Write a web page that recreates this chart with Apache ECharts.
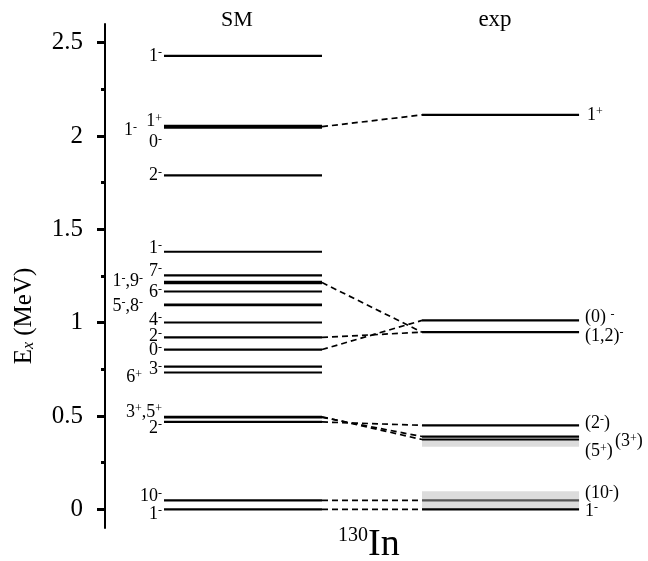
<!DOCTYPE html>
<html>
<head>
<meta charset="utf-8">
<script src="https://cdn.jsdelivr.net/npm/echarts@6/dist/echarts.min.js"></script>
<style>
  html, body { margin: 0; padding: 0; background: #fff; }
  #main { width: 648px; height: 561px; }
</style>
</head>
<body>
<div id="main"></div>
<script>
// energies in MeV
var smLevels = [0, 0.048, 0.468, 0.493, 0.496, 0.733, 0.765, 0.856, 0.921, 1.001, 1.094, 1.097,
                1.167, 1.212, 1.218, 1.253, 1.380, 1.789, 2.045, 2.050, 2.055, 2.429];
var expLevels = [0, 0.048, 0.374, 0.390, 0.450, 0.949, 1.012, 2.113];
var expBands = [[0, 0.097], [0.335, 0.372]];
// SM level -> exp level
var links = [[0, 0], [0.048, 0.048], [0.468, 0.450], [0.493, 0.390], [0.496, 0.374],
             [0.856, 1.012], [0.921, 0.949], [1.215, 0.949], [2.050, 2.113]];

var smLabelText = ['1-', '10-', '2-', '3+,5+', '6+', '3-', '0-', '2-', '4-', '5-,8-', '6-', '1-,9-', '7-',
                   '1-', '2-', '1+', '1-', '0-', '1-'];
var smLabelE = [0, 0.048, 0.468, 0.495, 0.733, 0.765, 0.856, 0.921, 1.001, 1.095, 1.167, 1.215, 1.253,
                1.380, 1.789, 2.050, 2.050, 2.050, 2.429];
var expLabelText = ['1-', '(10-)', '(5+)', '(3+)', '(2-)', '(1,2)-', '(0) -', '1+'];

var majorTicks = [0, 0.5, 1, 1.5, 2, 2.5];
var minorTicks = [0.25, 0.75, 1.25, 1.75, 2.25];

// layout (pixels / column units)
var SM_X = [0, 1];
var EXP_X = [1.633, 2.627];
var smLabelOffset = [[-2, 5], [-2, -4], [-2, 6], [-2, -5], [-22, 5], [-2, 3], [-2, 1], [-2, -1], [-2, -2],
                     [-21, 1], [-2, 1], [-21, -1], [-2, -4], [-2, -3], [-2, 0], [-2, -5], [-27, 4], [-2, 16], [-2, 0]];
var expLabelOffset = [[6, 2], [6, -7], [6, 12], [36, 5], [6, -2], [6, 4], [6, -3], [8, 0]];
var expLineColor = ['#000', '#555', '#000', '#000', '#000', '#000', '#000', '#000'];

var FONT = 'Liberation Serif';
var RICH = {
    b: { fontFamily: FONT, fontSize: 18, lineHeight: 18, fill: '#000' },
    s: { fontFamily: FONT, fontSize: 12, lineHeight: 9, verticalAlign: 'top', fill: '#000' }
};
function toRich(t) {
    return t.replace(/[^+-]+/g, function (m) { return '{b|' + m + '}'; })
            .replace(/([+-])/g, '{s|$1}');
}

function levelRender(x0, x1, colors) {
    return function (params, api) {
        var e = api.value(0);
        var a = api.coord([x0, e]);
        var b = api.coord([x1, e]);
        return {
            type: 'line',
            shape: { x1: a[0], y1: a[1], x2: b[0], y2: b[1] },
            style: { stroke: colors ? colors[params.dataIndex] : '#000', lineWidth: 2.2 }
        };
    };
}
function labelRender(xRef, texts, offs, align) {
    return function (params, api) {
        var p = api.coord([xRef, api.value(0)]);
        var o = offs[params.dataIndex];
        return {
            type: 'text',
            x: p[0] + o[0],
            y: p[1] + o[1],
            style: { text: toRich(texts[params.dataIndex]), align: align, verticalAlign: 'middle', rich: RICH }
        };
    };
}

var myChart = echarts.init(document.getElementById('main'));
var option = {
    animation: false,
    grid: { left: 105, right: 0, top: 24, bottom: 33 },
    xAxis: { type: 'value', min: -0.3734, max: 3.0633, show: false },
    yAxis: [{
        type: 'value', min: -0.1, max: 2.6,
        splitLine: { show: false },
        axisLine: { show: true, onZero: false, lineStyle: { color: '#000', width: 2 } },
        axisTick: { show: true, customValues: majorTicks, length: 8, lineStyle: { color: '#000', width: 3 } },
        axisLabel: { customValues: majorTicks, margin: 22, color: '#000', fontSize: 25, fontFamily: FONT }
    }, {
        type: 'value', min: -0.1, max: 2.6, position: 'left',
        splitLine: { show: false },
        axisLine: { show: false, onZero: false },
        axisTick: { show: true, customValues: minorTicks, length: 4, lineStyle: { color: '#000', width: 3 } },
        axisLabel: { show: false }
    }],
    graphic: [
        { type: 'text', x: 237, y: 20, style: { text: 'SM', font: '22px ' + FONT, fill: '#000', align: 'center', verticalAlign: 'middle' } },
        { type: 'text', x: 495, y: 20, style: { text: 'exp', font: '23px ' + FONT, fill: '#000', align: 'center', verticalAlign: 'middle' } },
        { type: 'text', x: 24, y: 316, rotation: Math.PI / 2,
          style: { text: '{a|E}{i|x}{a| (MeV)}', align: 'center', verticalAlign: 'middle',
                   rich: { a: { fontFamily: FONT, fontSize: 25, lineHeight: 26, fill: '#000' },
                           i: { fontFamily: FONT, fontSize: 16, fontStyle: 'italic', lineHeight: 20, verticalAlign: 'bottom', fill: '#000' } } } },
        { type: 'text', x: 338, y: 545,
          style: { text: '{s|130}{b|In}', align: 'left', verticalAlign: 'middle',
                   rich: { b: { fontFamily: FONT, fontSize: 38, lineHeight: 38, fill: '#000' },
                           s: { fontFamily: FONT, fontSize: 20, lineHeight: 22, verticalAlign: 'top', fill: '#000' } } } }
    ],
    series: [{
        type: 'custom', name: 'bands', silent: true, encode: { y: [0, 1] },
        data: expBands,
        renderItem: function (params, api) {
            var a = api.coord([EXP_X[0], api.value(1)]);
            var b = api.coord([EXP_X[1], api.value(0)]);
            return { type: 'rect', shape: { x: a[0], y: a[1], width: b[0] - a[0], height: b[1] - a[1] },
                     style: { fill: '#dcdcdc' } };
        }
    }, {
        type: 'custom', name: 'links', silent: true, encode: { y: [0, 1] },
        data: links,
        renderItem: function (params, api) {
            var a = api.coord([SM_X[1], api.value(0)]);
            var b = api.coord([EXP_X[0], api.value(1)]);
            return { type: 'line', shape: { x1: a[0], y1: a[1], x2: b[0], y2: b[1] },
                     style: { stroke: '#000', lineWidth: 1.7, lineDash: [6, 4] } };
        }
    }, {
        type: 'custom', name: 'SM', silent: true, encode: { y: 0 },
        data: smLevels.map(function (e) { return [e]; }),
        renderItem: levelRender(SM_X[0], SM_X[1])
    }, {
        type: 'custom', name: 'exp', silent: true, encode: { y: 0 },
        data: expLevels.map(function (e) { return [e]; }),
        renderItem: levelRender(EXP_X[0], EXP_X[1], expLineColor)
    }, {
        type: 'custom', name: 'smLabels', silent: true, encode: { y: 0 },
        data: smLabelE.map(function (e) { return [e]; }),
        renderItem: labelRender(SM_X[0], smLabelText, smLabelOffset, 'right')
    }, {
        type: 'custom', name: 'expLabels', silent: true, encode: { y: 0 },
        data: expLevels.map(function (e) { return [e]; }),
        renderItem: labelRender(EXP_X[1], expLabelText, expLabelOffset, 'left')
    }]
};
myChart.setOption(option);
</script>
</body>
</html>
